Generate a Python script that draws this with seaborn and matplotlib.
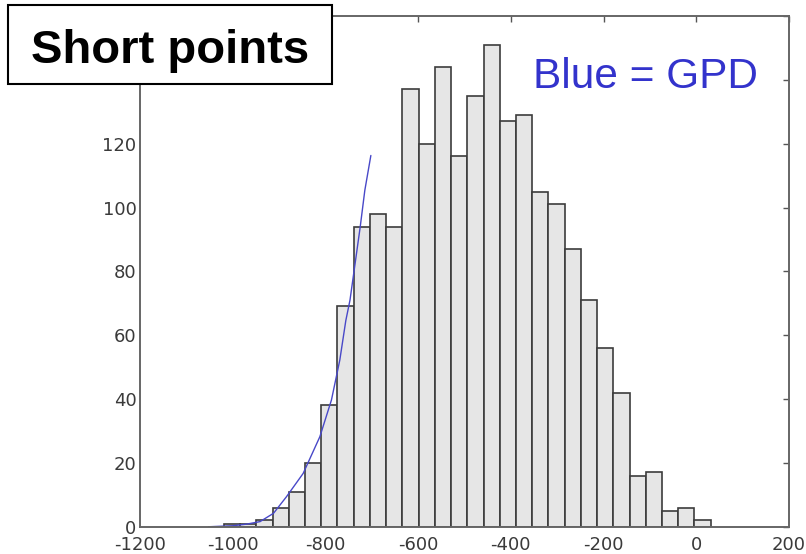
import numpy as np
import pandas as pd
import matplotlib
matplotlib.use("Agg")
import matplotlib.pyplot as plt
import seaborn as sns
from matplotlib.patches import Rectangle

# ---- data ----
bin_start = -1054.0
bin_width = 35.0
counts = [0, 1, 1, 2, 6, 11, 20, 38, 69, 94, 98, 94, 137, 120, 144, 116,
          135, 151, 127, 129, 105, 101, 87, 71, 56, 42, 16, 17, 5, 6, 2]

gpd_x = [-1049, -1000, -970, -941, -912, -884, -848, -812, -787, -769,
         -756, -747, -725, -715, -702]
gpd_y = [0.0, 0.3, 0.8, 1.6, 4.2, 9.4, 16.7, 28.2, 39.7, 52.2,
         64.6, 71.0, 93.9, 105.4, 116.3]

xticks = [-1200, -1000, -800, -600, -400, -200, 0, 200]
yticks = [0, 20, 40, 60, 80, 100, 120, 140, 160]
ytick_labels = ["0", "20", "40", "60", "80", "100", "120", "", ""]
title_text = "Short points"
legend_text = "Blue = GPD"

# ---- figure ----
sns.set_style("white")
plt.rcParams["axes.unicode_minus"] = False
plt.rcParams["font.family"] = ["DejaVu Sans"]

fig = plt.figure(figsize=(8.06, 5.54), dpi=100)
ax = fig.add_axes([140 / 806, 1 - 526.7 / 554, (789 - 140) / 806, (526.7 - 16) / 554])

n = len(counts)
edges = bin_start + bin_width * np.arange(n + 1)
hist_df = pd.DataFrame({"center": edges[:-1] + bin_width / 2,
                        "count": np.array(counts, dtype=float)})
sns.histplot(data=hist_df, x="center", weights="count",
             binwidth=bin_width, binrange=(edges[0], edges[-1]), stat="count",
             color="#e6e6e6", edgecolor="#3c3c3c", linewidth=1.2, alpha=1,
             ax=ax)
gpd_df = pd.DataFrame({"x": gpd_x, "y": gpd_y})
sns.lineplot(data=gpd_df, x="x", y="y", sort=False, color="#4848c8",
             linewidth=1.0, ax=ax)

ax.set_xlim(-1200, 200)
ax.set_ylim(0, 160)
ax.set_xticks(xticks)
ax.set_yticks(yticks)
ax.set_yticklabels(ytick_labels)
ax.set_xlabel("")
ax.set_ylabel("")
ax.tick_params(direction="in", top=True, right=True, length=4, width=1.0,
               color="#555555", labelsize=13, labelcolor="#3a3a3a")
ax.tick_params(axis="y", pad=2.5)
ax.tick_params(axis="x", pad=7)
for s in ax.spines.values():
    s.set_visible(True)
    s.set_color("#666666")
    s.set_linewidth(1.4)

# title box
fig.patches.append(Rectangle((8 / 806, 1 - 84 / 554), 324 / 806, 79 / 554,
                             transform=fig.transFigure, facecolor="white",
                             edgecolor="black", linewidth=1.5, zorder=10))
fig.text(170 / 806, 1 - 63 / 554, title_text, ha="center", va="baseline",
         fontsize=34, fontweight="bold", family=["Liberation Sans"],
         color="black", zorder=11)
fig.text(645.7 / 806, 1 - 88.3 / 554, legend_text, ha="center", va="baseline",
         fontsize=30.5, family=["Liberation Sans"], color="#3333cc", zorder=11)

fig.savefig("out.png", dpi=100)
